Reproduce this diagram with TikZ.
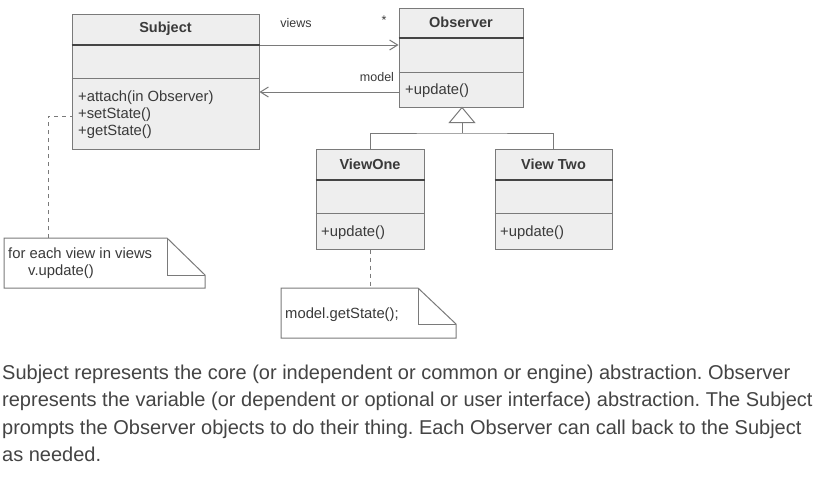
\documentclass[tikz,border=0pt]{standalone}
\usepackage{fontspec}
\setmainfont{Liberation Sans}
\usetikzlibrary{arrows.meta}
\definecolor{boxfill}{HTML}{EEEEEE}
\definecolor{boxline}{HTML}{7A7A7A}
\definecolor{sepdark}{HTML}{444444}
\definecolor{txt}{HTML}{3A3A3A}
\definecolor{para}{HTML}{444444}
\tikzset{
  classbox/.style={draw=boxline, fill=boxfill, line width=1pt, inner sep=0pt},
  septhick/.style={draw=sepdark, line width=2pt},
  septhin/.style={draw=boxline, line width=1pt},
  cname/.style={font=\fontsize{14.5}{16}\selectfont\bfseries, text=txt, inner sep=0pt},
  member/.style={font=\fontsize{14.8}{17}\selectfont, text=txt, inner sep=0pt, anchor=base west},
  lbl/.style={font=\fontsize{12.5}{14}\selectfont, text=txt, inner sep=0pt},
  assoc/.style={draw=boxline, line width=1pt, -{Straight Barb[length=8pt,width=10pt,line width=1pt]}},
  genline/.style={draw=boxline, line width=1pt},
  notebox/.style={draw=boxline, fill=white, line width=1pt},
  notelink/.style={draw=boxline, line width=1pt, dash pattern=on 4pt off 4pt},
  ptext/.style={font=\fontsize{20}{24}\selectfont\frenchspacing, text=para, inner sep=0pt, anchor=base west},
}
\begin{document}
\begin{tikzpicture}[x=1pt,y=-1pt]
\useasboundingbox[fill=white] (0,0) rectangle (814,490);

% Subject
\node[classbox, minimum width=187pt, minimum height=135pt] (subj) at (165.5,81.5) {};
\draw[septhick] (subj.west |- 0,45) -- (subj.east |- 0,45);
\draw[septhin] (subj.west |- 0,78) -- (subj.east |- 0,78);
\node[cname] (subjname) at (165.5,29) {Subject};
\node[member] (subjop1) at (78,101) {+attach(in Observer)};
\node[member] (subjop2) at (78,118) {+setState()};
\node[member] (subjop3) at (78,135) {+getState()};

% Observer
\node[classbox, minimum width=124pt, minimum height=99pt] (obs) at (461,57.5) {};
\draw[septhick] (obs.west |- 0,38) -- (obs.east |- 0,38);
\draw[septhin] (obs.west |- 0,72) -- (obs.east |- 0,72);
\node[cname] (obsname) at (461,22.5) {Observer};
\node[member] (obsops) at (405,94) {+update()};

% ViewOne
\node[classbox, minimum width=108pt, minimum height=100pt] (v1) at (370,199) {};
\draw[septhick] (v1.west |- 0,180) -- (v1.east |- 0,180);
\draw[septhin] (v1.west |- 0,213) -- (v1.east |- 0,213);
\node[cname] (v1name) at (370,164) {ViewOne};
\node[member] (v1ops) at (321,236) {+update()};

% ViewTwo
\node[classbox, minimum width=117pt, minimum height=100pt] (v2) at (553.5,199) {};
\draw[septhick] (v2.west |- 0,180) -- (v2.east |- 0,180);
\draw[septhin] (v2.west |- 0,213) -- (v2.east |- 0,213);
\node[cname] (v2name) at (553.5,164) {View Two};
\node[member] (v2ops) at (500,236) {+update()};

% associations
\draw[assoc] (subj.east |- 0,45) -- (obs.west |- 0,45);
\draw[assoc] (obs.west |- 0,92) -- (subj.east |- 0,92);
\node[lbl] (lviews) at (296,23) {views};
\node[lbl] (lstar) at (384,20) {*};
\node[lbl] (lmodel) at (377,77) {model};

% generalization
\coordinate (tribase) at (462,122);
\coordinate (bar) at (462,133);
\draw[genline, fill=white] (obs.south -| 462,0) -- ++(-12.5,15) -- ++(25,0) -- cycle;
\draw[genline] (tribase) -- (bar);
\draw[genline] (v1.north) |- (bar) -| (v2.north);

% note 1
\draw[notebox] (4,238) -- (167,238) -- (205,275) -- (205,288) -- (4,288) -- cycle;
\draw[genline] (167,238) -- (167,275) -- (205,275);
\node[member] (note1a) at (8,258) {for each view in views};
\node[member] (note1b) at (28,275) {v.update()};
\coordinate (n1top) at (48,238);
\draw[notelink] (n1top) |- (subj.west |- 0,116);

% note 2
\draw[notebox] (281,288) -- (418,288) -- (456,324) -- (456,338) -- (281,338) -- cycle;
\draw[genline] (418,288) -- (418,324) -- (456,324);
\node[member] (note2) at (285,318) {model.getState();};
\coordinate (n2top) at (v1.south |- 0,288);
\draw[notelink] (v1.south) -- (n2top);

% paragraph
\node[ptext] (p1) at (2,379) {Subject represents the core (or independent or common or engine) abstraction. Observer};
\node[ptext] (p2) at (2,406.5) {represents the variable (or dependent or optional or user interface) abstraction. The Subject};
\node[ptext] (p3) at (2,434) {prompts the Observer objects to do their thing. Each Observer can call back to the Subject};
\node[ptext] (p4) at (2,461.5) {as needed.};
\end{tikzpicture}
\end{document}
